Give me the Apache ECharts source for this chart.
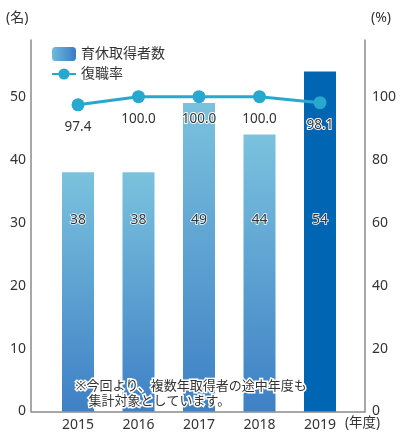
<!DOCTYPE html>
<html>
<head>
<meta charset="utf-8">
<script src="https://cdn.jsdelivr.net/npm/echarts@6/dist/echarts.min.js"></script>
<style>
html,body{margin:0;padding:0;background:#fff;}
#c{width:412px;height:437px;}
</style>
</head>
<body>
<div id="c"></div>
<script>
var years = ['2015', '2016', '2017', '2018', '2019'];
var takers = [38, 38, 49, 44, 54];
var returnRate = [97.4, 100.0, 100.0, 100.0, 98.1];
var leftTicks = [0, 10, 20, 30, 40, 50];
var rightTicks = [0, 20, 40, 60, 80, 100];

var FONT = '"Noto Sans", "Noto Sans CJK JP", sans-serif';
var TXT = '#333';
var AX = '#8a8a8a';

function barGrad() {
  return new echarts.graphic.LinearGradient(0, 0, 0, 1, [
    {offset: 0, color: '#7bc2de'},
    {offset: 1, color: '#3e80c5'}
  ]);
}

var barData = takers.map(function (v, i) {
  var item = {value: v};
  if (i === takers.length - 1) item.itemStyle = {color: '#0066b4'};
  return item;
});

var chart = echarts.init(document.getElementById('c'), null, {renderer: 'canvas'});
chart.setOption({
  backgroundColor: '#fff',
  animation: false,
  textStyle: {fontFamily: FONT},
  grid: [
    {left: 31, right: 47, top: 40, bottom: 25.5},
    {left: 47.75, right: 61.75, top: 40, bottom: 25.5}
  ],
  legend: {
    orient: 'vertical',
    left: 46,
    top: 42,
    itemWidth: 24,
    itemHeight: 14,
    itemGap: 6,
    textStyle: {fontSize: 14, color: TXT, fontFamily: FONT},
    data: [
      {name: '育休取得者数', itemStyle: {color: new echarts.graphic.LinearGradient(0, 0, 1, 0, [
        {offset: 0, color: '#6fbadd'}, {offset: 1, color: '#3a7bc4'}])}},
      {name: '復職率'}
    ]
  },
  xAxis: [
    {
      type: 'category', gridIndex: 0, data: [''],
      axisLine: {show: true, lineStyle: {color: AX, width: 1.5}},
      axisTick: {show: false}, axisLabel: {show: false}, splitLine: {show: false}
    },
    {
      type: 'category', gridIndex: 1, data: years,
      axisLine: {show: false}, axisTick: {show: false},
      axisLabel: {fontSize: 14, color: TXT, margin: 7, fontFamily: FONT}
    }
  ],
  yAxis: [
    {
      type: 'value', gridIndex: 0, position: 'left', min: 0, max: 59, interval: 10,
      axisLine: {show: true, lineStyle: {color: AX, width: 1.5}},
      axisTick: {show: false}, splitLine: {show: false},
      axisLabel: {fontSize: 14, color: TXT, margin: 5, fontFamily: FONT,
        formatter: function (v) { return leftTicks.indexOf(v) >= 0 ? String(v) : ''; }}
    },
    {
      type: 'value', gridIndex: 0, position: 'right', min: 0, max: 118, interval: 20,
      axisLine: {show: true, lineStyle: {color: AX, width: 1.5}},
      axisTick: {show: false}, splitLine: {show: false},
      axisLabel: {fontSize: 14, color: TXT, margin: 7, fontFamily: FONT,
        formatter: function (v) { return rightTicks.indexOf(v) >= 0 ? String(v) : ''; }}
    },
    {type: 'value', gridIndex: 1, min: 0, max: 59, show: false},
    {type: 'value', gridIndex: 1, min: 0, max: 118, show: false}
  ],
  series: [
    {
      name: '育休取得者数', type: 'bar', xAxisIndex: 1, yAxisIndex: 2,
      barWidth: 32, data: barData,
      itemStyle: {color: barGrad()},
      label: {
        show: true, position: 'insideBottom', distance: 184,
        fontSize: 14, color: TXT, fontFamily: FONT,
        textBorderColor: '#fff', textBorderWidth: 1.5
      }
    },
    {
      name: '復職率', type: 'line', xAxisIndex: 1, yAxisIndex: 3,
      data: returnRate, symbol: 'circle', symbolSize: 13,
      lineStyle: {color: '#29a8cf', width: 3},
      itemStyle: {color: '#29a8cf'},
      label: {
        show: true, position: 'bottom', distance: 9,
        fontSize: 13.5, color: TXT, fontFamily: FONT,
        textBorderColor: '#fff', textBorderWidth: 2,
        formatter: function (p) { return p.value.toFixed(1); }
      }
    }
  ],
  graphic: [
    {type: 'text', left: 6, top: 11, style: {text: '(名)', fontSize: 14, fill: TXT, fontFamily: FONT}},
    {type: 'text', left: 371, top: 11, style: {text: '(%)', fontSize: 14, fill: TXT, fontFamily: FONT}},
    {type: 'text', left: 345, top: 416, style: {text: '(年度)', fontSize: 13.5, fill: TXT, fontFamily: FONT}},
    {type: 'text', left: 74, top: 378, z: 100, style: {
      text: '※今回より、複数年取得者の途中年度も\n\u3000集計対象としています。',
      fontSize: 13, lineHeight: 15, fill: TXT, fontFamily: FONT,
      stroke: '#fff', lineWidth: 3
    }}
  ]
});
</script>
</body>
</html>
